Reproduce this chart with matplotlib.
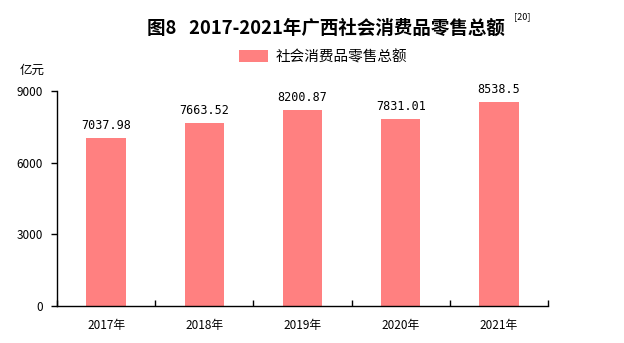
import matplotlib
matplotlib.use("Agg")
import matplotlib.pyplot as plt
from matplotlib.patches import Patch

plt.rcParams['font.family'] = ['Noto Sans CJK SC', 'DejaVu Sans']

years = ["2017年", "2018年", "2019年", "2020年", "2021年"]
values = [7037.98, 7663.52, 8200.87, 7831.01, 8538.5]
value_labels = ["7037.98", "7663.52", "8200.87", "7831.01", "8538.5"]
yticks = [0, 3000, 6000, 9000]
color = "#FF8080"

fig = plt.figure(figsize=(6.24, 3.43), dpi=100)
ax = fig.add_axes([57/624, 1-306/343, (548-57)/624, (306-91)/343])

x = list(range(len(years)))
bars = ax.bar(x, values, width=0.4, color=color, zorder=2)
for xi, v, lab in zip(x, values, value_labels):
    ax.text(xi, v + 250, lab, ha='center', va='bottom', fontsize=8.5, family=['DejaVu Sans Mono', 'DejaVu Sans'])

ax.set_xlim(-0.5, len(years) - 0.5)
ax.set_ylim(0, 9000)
ax.set_yticks(yticks)
ax.set_yticklabels([str(t) for t in yticks], fontsize=8.5)
ax.set_xticks(x)
ax.set_xticklabels(years, fontsize=8.5)
ax.tick_params(axis='x', length=0, pad=9)
ax.tick_params(axis='y', direction='out', length=4, width=1, pad=6)
ax.set_xticks([i - 0.5 for i in range(len(years) + 1)], minor=True)
ax.tick_params(axis='x', which='minor', direction='in', length=4, width=1)
for s in ['top', 'right']:
    ax.spines[s].set_visible(False)
ax.spines['left'].set_linewidth(1)
ax.spines['bottom'].set_linewidth(1)

fig.text(20/624, 1-70/343, "亿元", fontsize=9, ha='left', va='center')
fig.text(326/624, 1-28/343, "图8   2017-2021年广西社会消费品零售总额", fontsize=13.3, fontweight='bold', ha='center', va='center')
fig.text(514/624, 1-17/343, "[20]", fontsize=6.5, ha='left', va='center')

fig.legend(handles=[Patch(facecolor=color)], labels=["社会消费品零售总额"],
           loc='center', bbox_to_anchor=(323/624, 1-57/343), frameon=False,
           fontsize=10.5, handlelength=2.0, handleheight=0.8, handletextpad=0.5)

fig.savefig("out.png", dpi=100)
